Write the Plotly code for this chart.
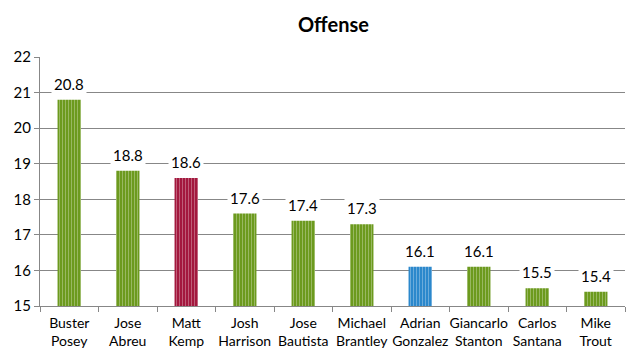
import plotly.graph_objects as go

players = ["Buster<br>Posey", "Jose<br>Abreu", "Matt<br>Kemp", "Josh<br>Harrison", "Jose<br>Bautista",
           "Michael<br>Brantley", "Adrian<br>Gonzalez", "Giancarlo<br>Stanton", "Carlos<br>Santana", "Mike<br>Trout"]
values = [20.8, 18.8, 18.6, 17.6, 17.4, 17.3, 16.1, 16.1, 15.5, 15.4]
bar_colors = ["#6c9a1e", "#6c9a1e", "#a3183e", "#6c9a1e", "#6c9a1e",
              "#6c9a1e", "#2b88cc", "#6c9a1e", "#6c9a1e", "#6c9a1e"]
pattern_colors = ["#5d8a18", "#5d8a18", "#8a1232", "#5d8a18", "#5d8a18",
                  "#5d8a18", "#2374b0", "#5d8a18", "#5d8a18", "#5d8a18"]
y_ticks = [15, 16, 17, 18, 19, 20, 21, 22]

font_family = "Lato, Open Sans, sans-serif"

fig = go.Figure()
fig.add_trace(go.Bar(
    x=players, y=values, base=0,
    marker=dict(color=bar_colors, line=dict(width=0),
                pattern=dict(shape="|", fgcolor=pattern_colors, size=3, solidity=0.2)),
    width=0.40,
))

for p, v in zip(players, values):
    fig.add_annotation(x=p, y=v, text=f"{v}", showarrow=False, yshift=16,
                       bgcolor="white", borderpad=2,
                       font=dict(family=font_family, size=15, color="#000000"))

fig.update_layout(
    width=632, height=352,
    margin=dict(l=32, r=15, t=49, b=54),
    paper_bgcolor="white", plot_bgcolor="white",
    title=dict(text="<b>Offense</b>", x=0.515, xanchor="center", y=0.952, yanchor="middle",
               font=dict(family=font_family, size=20, color="#000000")),
    showlegend=False,
    font=dict(family=font_family, size=13, color="#000000"),
)
fig.update_yaxes(range=[15, 22], tickvals=y_ticks, showgrid=True, gridcolor="#878787", gridwidth=1,
                 showline=True, linecolor="#878787", ticks="outside", ticklen=5, tickcolor="#878787",
                 tickfont=dict(size=15), zeroline=False, automargin=False)
fig.update_xaxes(showline=True, linecolor="#878787", ticks="outside", ticklen=5, tickcolor="#878787",
                 tickson="boundaries", tickangle=0, tickfont=dict(size=14), automargin=False,
                 ticklabelstandoff=4)

fig.write_html("out.html")
